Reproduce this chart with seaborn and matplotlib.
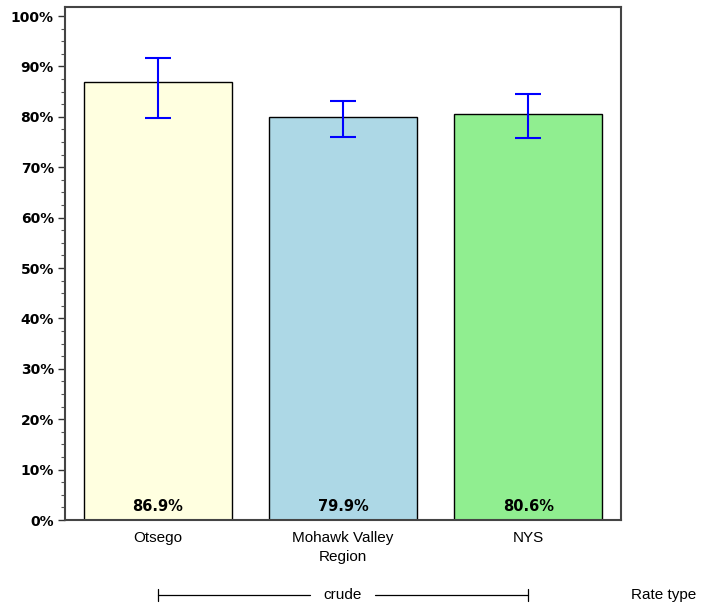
import matplotlib
matplotlib.use("Agg")
import matplotlib.pyplot as plt
import matplotlib.transforms as mtransforms
from matplotlib.ticker import MultipleLocator, FuncFormatter
import seaborn as sns
import pandas as pd

categories = ["Otsego", "Mohawk Valley\nRegion", "NYS"]
values = [86.9, 79.9, 80.6]
ci_lower = [79.7, 76.0, 75.8]
ci_upper = [91.7, 83.1, 84.6]
colors = ["#FFFFE0", "#ADD8E6", "#90EE90"]
value_labels = ["86.9%", "79.9%", "80.6%"]
group_label = "crude"
axis_title = "Rate type"

sns.set_style("white")
plt.rcParams["font.family"] = ["Liberation Sans", "DejaVu Sans"]

df = pd.DataFrame({"cat": categories, "val": values})

fig = plt.figure(figsize=(7.01, 6.05), dpi=100)
ax = fig.add_axes([65 / 701, 85 / 605, 556 / 701, 513 / 605])

sns.barplot(data=df, x="cat", y="val", hue="cat", palette=colors,
            order=categories, hue_order=categories, legend=False,
            width=0.8, saturation=1, edgecolor="black", linewidth=1.0,
            ax=ax, errorbar=None)

xs = list(range(len(categories)))
yerr = [[v - lo for v, lo in zip(values, ci_lower)],
        [hi - v for v, hi in zip(values, ci_upper)]]
ax.errorbar(xs, values, yerr=yerr, fmt="none", ecolor="#0000FF",
            elinewidth=1.5, capsize=9.5, capthick=1.5, zorder=5)

for x, lab in zip(xs, value_labels):
    ax.text(x, 2.7, lab, ha="center", va="center", fontsize=10.5,
            fontweight="bold", family=["DejaVu Sans"], color="black")

ax.set_xlim(-0.5, 2.5)
ax.set_ylim(0, 101.8)
ax.yaxis.set_major_locator(MultipleLocator(10))
ax.yaxis.set_minor_locator(MultipleLocator(2.5))
ax.yaxis.set_major_formatter(FuncFormatter(lambda v, p: f"{v:.0f}%"))
ax.tick_params(axis="y", which="major", direction="out", length=5, width=1,
               color="#333333", left=True, pad=3, labelcolor="black")
ax.tick_params(axis="y", which="minor", direction="out", length=3, width=0.8,
               color="#555555", left=True)
ax.tick_params(axis="x", length=0, pad=8, labelcolor="black")
for lab in ax.get_yticklabels():
    lab.set_fontweight("bold")
    lab.set_fontsize(10)
    lab.set_family(["DejaVu Sans"])
for lab in ax.get_xticklabels():
    lab.set_fontsize(11)
    lab.set_linespacing(1.4)
ax.set_xlabel("")
ax.set_ylabel("")
for s in ax.spines.values():
    s.set_visible(True)
    s.set_color("#444444")
    s.set_linewidth(1.5)

# group bracket below
trans = mtransforms.blended_transform_factory(ax.transData, fig.transFigure)
yb = 10 / 605
th = 6 / 605
ax.plot([0, 0.82], [yb, yb], color="black", lw=0.9, transform=trans, clip_on=False)
ax.plot([1.17, 2.0], [yb, yb], color="black", lw=0.9, transform=trans, clip_on=False)
ax.plot([0, 0], [yb - th, yb + th], color="black", lw=0.9, transform=trans, clip_on=False)
ax.plot([2.0, 2.0], [yb - th, yb + th], color="black", lw=0.9, transform=trans, clip_on=False)
ax.text(1.0, yb, group_label, ha="center", va="center", fontsize=11,
        color="black", transform=trans)
fig.text(631 / 701, yb, axis_title, ha="left", va="center", fontsize=11,
         color="black")

fig.savefig("out.png", dpi=100)
